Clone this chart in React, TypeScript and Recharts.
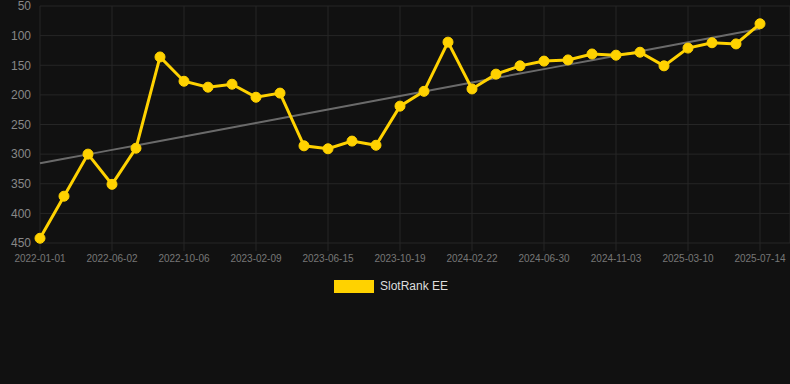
import { LineChart, Line, XAxis, YAxis, CartesianGrid, Legend } from 'recharts';

const dates = [
  '2022-01-01', '2022-02-20', '2022-04-21', '2022-06-02', '2022-07-14', '2022-08-25',
  '2022-10-06', '2022-11-17', '2022-12-29', '2023-02-09', '2023-03-23', '2023-05-04',
  '2023-06-15', '2023-07-27', '2023-09-07', '2023-10-19', '2023-11-30', '2024-01-11',
  '2024-02-22', '2024-04-04', '2024-05-16', '2024-06-30', '2024-08-11', '2024-09-22',
  '2024-11-03', '2024-12-15', '2025-01-26', '2025-03-10', '2025-04-21', '2025-06-02',
  '2025-07-14',
];

const ranks = [
  442, 371, 300, 351, 290, 136, 177, 187, 182, 204, 197, 286, 291, 278, 285, 219,
  194, 111, 190, 165, 151, 143, 141, 131, 133, 128, 151, 121, 112, 114, 80,
];

const tickDates = [
  '2022-01-01', '2022-06-02', '2022-10-06', '2023-02-09', '2023-06-15', '2023-10-19',
  '2024-02-22', '2024-06-30', '2024-11-03', '2025-03-10', '2025-07-14',
];

const rankTicks = [50, 100, 150, 200, 250, 300, 350, 400, 450];

// least squares trend over the ranks
const n = ranks.length;
const meanX = (n - 1) / 2;
const meanY = ranks.reduce((a, b) => a + b, 0) / n;
let sxy = 0;
let sxx = 0;
ranks.forEach((v, i) => {
  sxy += (i - meanX) * (v - meanY);
  sxx += (i - meanX) * (i - meanX);
});
const slope = sxy / sxx;

const data = dates.map((date, i) => ({
  date,
  rank: ranks[i],
  trend: meanY + slope * (i - meanX),
}));

const GOLD = '#FFD200';
const FONT = '"Liberation Sans", Arial, Helvetica, sans-serif';

function LegendBox() {
  return (
    <div
      style={{
        display: 'flex',
        justifyContent: 'center',
        alignItems: 'center',
        height: 20,
        fontFamily: FONT,
        fontSize: 12,
        color: '#dddddd',
      }}
    >
      <span style={{ width: 40, height: 13, background: GOLD, marginRight: 6, marginLeft: -8 }} />
      <span>SlotRank EE</span>
    </div>
  );
}

export default function App() {
  return (
    <div style={{ position: 'fixed', left: 0, top: 0, width: 790, height: 384, background: '#111111' }}>
      <LineChart width={790} height={384} data={data} margin={{ top: 6, right: 0, left: 0, bottom: 88 }}>
        <CartesianGrid stroke="#262626" strokeWidth={1} />
        <XAxis
          dataKey="date"
          ticks={tickDates}
          interval={0}
          height={33}
          padding={{ left: 0, right: 30 }}
          axisLine={false}
          tickLine={{ stroke: '#262626' }}
          tickSize={8}
          tickMargin={4}
          tick={{ fill: '#777777', fontSize: 10, fontFamily: FONT }}
        />
        <YAxis
          reversed
          domain={[50, 450]}
          ticks={rankTicks}
          interval={0}
          width={40}
          axisLine={false}
          tickLine={false}
          tickSize={8}
          tickMargin={1}
          tick={{ fill: '#888888', fontSize: 12, fontFamily: FONT }}
        />
        <Legend verticalAlign="bottom" height={20} content={() => <LegendBox />} />
        <Line
          dataKey="trend"
          stroke="#6a6a6a"
          strokeWidth={2}
          dot={false}
          legendType="none"
          isAnimationActive={false}
        />
        <Line
          dataKey="rank"
          name="SlotRank EE"
          stroke={GOLD}
          strokeWidth={3}
          dot={{ r: 5, fill: GOLD, stroke: GOLD, strokeWidth: 1 }}
          isAnimationActive={false}
        />
      </LineChart>
    </div>
  );
}
